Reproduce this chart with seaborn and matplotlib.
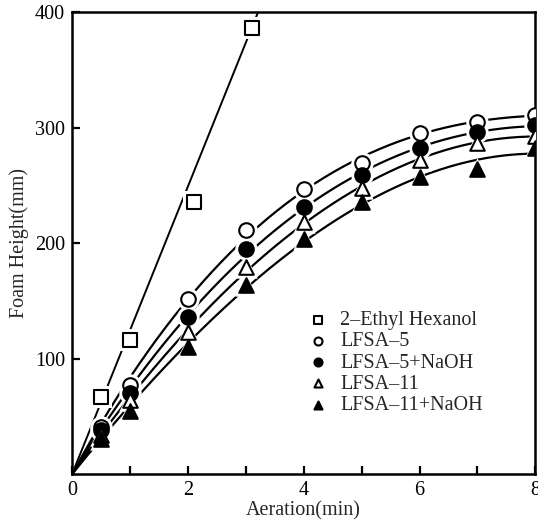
import matplotlib
matplotlib.use("Agg")
import matplotlib.pyplot as plt
import numpy as np
import pandas as pd
import seaborn as sns

# Data.
hexanol_x = [0.5, 1.0, 2.1, 3.1]
hexanol_y = [67, 116, 236, 386]

aeration = [0.5, 1, 2, 3, 4, 5, 6, 7, 8]
lfsa5 = [41, 77, 152, 211, 247, 269, 295, 305, 311]
lfsa5_naoh = [38, 70, 136, 195, 231, 259, 282, 296, 302]
lfsa11 = [34, 64, 123, 179, 218, 248, 272, 287, 293]
lfsa11_naoh = [30, 55, 110, 164, 204, 236, 257, 264, 282]

series_names = ["LFSA\u20135", "LFSA\u20135+NaOH", "LFSA\u201311", "LFSA\u201311+NaOH"]
series_values = [lfsa5, lfsa5_naoh, lfsa11, lfsa11_naoh]
series_markers = ["o", "o", "^", "^"]
series_faces = ["white", "black", "white", "black"]

sns.set_theme(style="ticks")
plt.rcParams["font.family"] = ["Liberation Serif", "DejaVu Serif"]

fig = plt.figure(figsize=(5.38, 5.28), dpi=100)
ax = fig.add_axes([0.134, 0.102, 0.861, 0.875])

# Trend curves through the origin (fitted to the points).
xs = np.linspace(0, 8, 200)
for values in series_values:
    x = np.array(aeration, dtype=float)
    y = np.array(values, dtype=float)
    A = np.column_stack([x, x**2, x**3])
    coef, *_ = np.linalg.lstsq(A, y, rcond=None)
    ax.plot(xs, coef[0] * xs + coef[1] * xs**2 + coef[2] * xs**3,
            color="black", lw=1.6, zorder=1)

# Straight line from the origin through the last hexanol point.
slope = hexanol_y[-1] / hexanol_x[-1]
ax.plot(xs, slope * xs, color="black", lw=1.4, zorder=1)

rows = []
for name, values in zip(series_names, series_values):
    for xv, yv in zip(aeration, values):
        rows.append({"x": xv, "y": yv, "series": name})
df = pd.DataFrame(rows)

# Markers with a white halo so the curves appear broken around them.
sns.scatterplot(x=hexanol_x, y=hexanol_y, marker="s", s=240, color="white",
                edgecolor="white", linewidth=0, ax=ax, zorder=2)
sns.scatterplot(x=hexanol_x, y=hexanol_y, marker="s", s=110, color="white",
                edgecolor="black", linewidth=1.5, ax=ax, zorder=3,
                label="2\u2013Ethyl Hexanol")

for name, m in zip(series_names, series_markers):
    sub = df[df["series"] == name]
    sns.scatterplot(data=sub, x="x", y="y", marker=m, s=260, color="white",
                    edgecolor="white", linewidth=0, ax=ax, zorder=2)

for name, m, fc in zip(series_names, series_markers, series_faces):
    sub = df[df["series"] == name]
    sns.scatterplot(data=sub, x="x", y="y", marker=m, s=110, color=fc,
                    edgecolor="black", linewidth=1.5, ax=ax, zorder=3,
                    label=name)

ax.set_xlim(0, 8)
ax.set_ylim(0, 400)
ax.set_xticks([0, 2, 4, 6, 8])
ax.set_xticks([1, 3, 5, 7], minor=True)
ax.set_yticks([100, 200, 300, 400])
ax.tick_params(which="both", direction="in", length=6, width=1.6,
               labelsize=14.5, colors="black", pad=5)
for side in ax.spines.values():
    side.set_linewidth(1.8)
    side.set_color("black")

ax.set_xlabel("Aeration(min)", fontsize=14.5, labelpad=1)
ax.set_ylabel("Foam Height(mm)", fontsize=14.5, labelpad=4)

leg = ax.legend(loc="upper left", bbox_to_anchor=(0.47, 0.37), frameon=False,
                fontsize=14.5, markerscale=0.55, handletextpad=0.1,
                labelspacing=0.1, borderaxespad=0)

plt.savefig("out.png", dpi=100)
plt.close(fig)
